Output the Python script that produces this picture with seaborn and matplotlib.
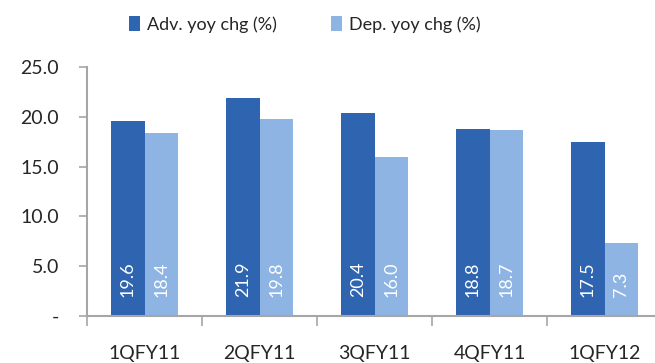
import matplotlib
matplotlib.use('Agg')
import matplotlib.pyplot as plt
import matplotlib.ticker as mticker
import seaborn as sns
import pandas as pd

# dados do gráfico
quarters = ['1QFY11', '2QFY11', '3QFY11', '4QFY11', '1QFY12']
adv_chg = [19.6, 21.9, 20.4, 18.8, 17.5]
dep_chg = [18.4, 19.8, 16.0, 18.7, 7.3]
series = ['Adv. yoy chg (%)', 'Dep. yoy chg (%)']
cores = ['#2E64B0', '#8DB4E3']

df = pd.DataFrame({
    'quarter': quarters * 2,
    'value': adv_chg + dep_chg,
    'serie': [series[0]] * len(quarters) + [series[1]] * len(quarters),
})

sns.set_style('white')
plt.rcParams['font.family'] = ['Lato', 'DejaVu Sans']

fig = plt.figure(figsize=(6.55, 3.63), dpi=100)
ax = fig.add_axes([87 / 655, 47 / 363, 575 / 655, 249 / 363])

sns.barplot(data=df, x='quarter', y='value', hue='serie', palette=cores,
            width=0.58, saturation=1, linewidth=0, ax=ax, legend=True)

# rótulos brancos dentro das barras
for cont in ax.containers:
    for barra in cont:
        h = barra.get_height()
        ax.text(barra.get_x() + barra.get_width() / 2, 1.9, f'{h:.1f}',
                rotation=90, ha='center', va='bottom', color='white', fontsize=13)

ax.set_ylim(0, 25)
ax.set_xlim(-0.5, len(quarters) - 0.5)
ax.yaxis.set_major_locator(mticker.MultipleLocator(5))
ax.yaxis.set_major_formatter(mticker.FuncFormatter(lambda v, p: '-' if v == 0 else f'{v:.1f}'))
ax.set_xlabel('')
ax.set_ylabel('')

for lado in ['top', 'right']:
    ax.spines[lado].set_visible(False)
for lado in ['left', 'bottom']:
    ax.spines[lado].set_color('#A6A6A6')
    ax.spines[lado].set_linewidth(1.5)

ax.tick_params(axis='y', length=6, width=1.2, color='#A6A6A6', pad=14, labelsize=14, left=True)
ax.tick_params(axis='x', which='major', length=0, pad=21, labelsize=14)
ax.set_xticks([i + 0.5 for i in range(-1, len(quarters))], minor=True)
ax.tick_params(axis='x', which='minor', length=7, width=1.2, color='#A6A6A6', bottom=True)

handles, labels = ax.get_legend_handles_labels()
ax.get_legend().remove()
fig.legend(handles, labels, loc='upper center', bbox_to_anchor=(0.466, 1.0), ncol=2,
           frameon=False, fontsize=13, handlelength=0.6, handleheight=0.9,
           handletextpad=0.4, columnspacing=3.0)

plt.savefig('out.png', dpi=100)
plt.close()
